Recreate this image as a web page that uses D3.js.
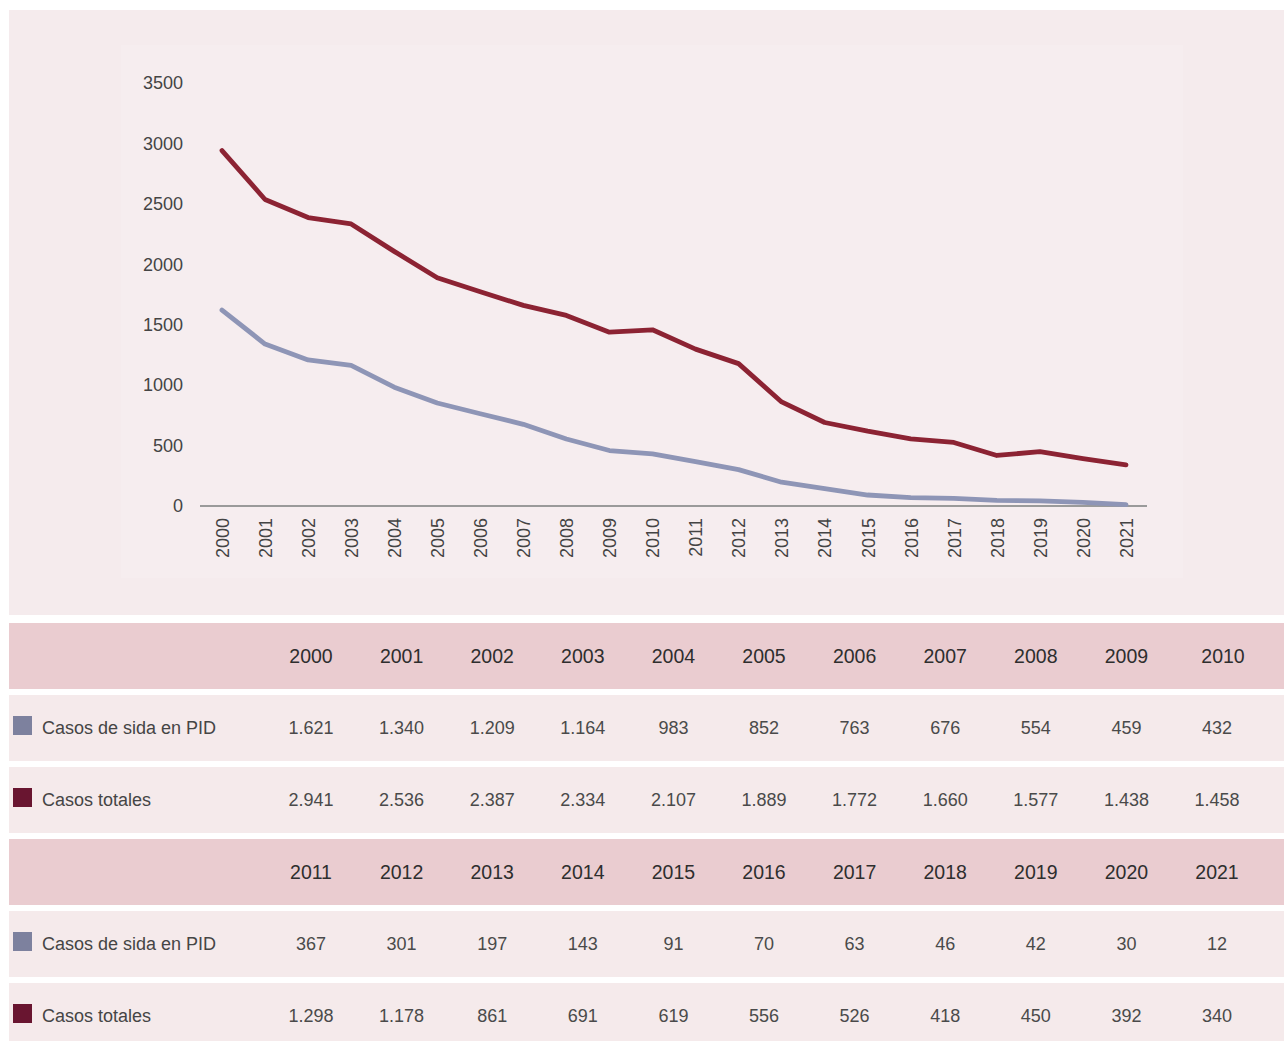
<!DOCTYPE html>
<html>
<head>
<meta charset="utf-8">
<script src="https://cdn.jsdelivr.net/npm/d3@7"></script>
<style>
  html, body { margin: 0; padding: 0; background: #ffffff; }
  svg { display: block; font-family: "Liberation Sans", Arial, Helvetica, sans-serif; }
</style>
</head>
<body>
<svg id="chart" width="1284" height="1041"></svg>
<script>
const years = [2000,2001,2002,2003,2004,2005,2006,2007,2008,2009,2010,2011,2012,2013,2014,2015,2016,2017,2018,2019,2020,2021];
const pid = [1621,1340,1209,1164,983,852,763,676,554,459,432,367,301,197,143,91,70,63,46,42,30,12];
const totales = [2941,2536,2387,2334,2107,1889,1772,1660,1577,1438,1458,1298,1178,861,691,619,556,526,418,450,392,340];
const yTicks = [0,500,1000,1500,2000,2500,3000,3500];
const seriesNames = ["Casos de sida en PID", "Casos totales"];
const lineColors = ["#8e95b6", "#8c2333"];
const legendColors = ["#7d819e", "#691530"];

const fmt = v => d3.format(",")(v).replace(/,/g, ".");

const svg = d3.select("#chart");

// chart panel backgrounds
svg.append("rect").attr("x", 9).attr("y", 10).attr("width", 1275).attr("height", 605).attr("fill", "#f5ebed");
svg.append("rect").attr("x", 121).attr("y", 45).attr("width", 1062).attr("height", 533).attr("fill", "#f6edef");

const x = d3.scalePoint().domain(years).range([222, 1126]);
const y = d3.scaleLinear().domain([0, 3500]).range([506, 83]);

// y axis labels
const yAxis = d3.axisLeft(y).tickValues(yTicks).tickSize(0).tickPadding(0).tickFormat(d3.format("d"));
const gy = svg.append("g").attr("transform", "translate(183,0)").call(yAxis);
gy.select(".domain").remove();
gy.selectAll("text").attr("font-size", 18).attr("fill", "#444").attr("font-family", "Liberation Sans, Arial, sans-serif");

// baseline
svg.append("line").attr("x1", 200).attr("x2", 1147).attr("y1", y(0)).attr("y2", y(0))
  .attr("stroke", "#9a9a9a").attr("stroke-width", 2.2);

// x axis labels
const xAxis = d3.axisBottom(x).tickSize(0).tickPadding(0).tickFormat(d3.format("d"));
const gx = svg.append("g").attr("transform", `translate(0,${y(0)})`).call(xAxis);
gx.select(".domain").remove();
gx.selectAll("text")
  .attr("font-size", 18).attr("fill", "#444").attr("font-family", "Liberation Sans, Arial, sans-serif")
  .attr("text-anchor", "end")
  .attr("transform", "translate(0,12) rotate(-90)")
  .attr("x", 0).attr("y", 0).attr("dy", "0.35em");

// lines
const line = d3.line().x((d, i) => x(years[i])).y(d => y(d));
[pid, totales].forEach((s, k) => {
  svg.append("path").datum(s).attr("d", line)
    .attr("fill", "none").attr("stroke", lineColors[k]).attr("stroke-width", 4.8)
    .attr("stroke-linejoin", "round").attr("stroke-linecap", "round");
});

// table
const blocks = [years.slice(0, 11), years.slice(11)];
const blockIdx = [[0, 11], [11, 22]];
const col = d3.scalePoint().domain(d3.range(11)).range([311, 1217]);
const rowTop = [623, 839];
blocks.forEach((yrs, b) => {
  const top = rowTop[b];
  // header row
  svg.append("rect").attr("x", 9).attr("y", top).attr("width", 1275).attr("height", 66).attr("fill", "#eaccd0");
  svg.append("g").selectAll("text").data(yrs).join("text")
    .attr("x", (d, i) => col(i) + (b === 0 && i === 10 ? 6 : 0))
    .attr("y", top + 33).attr("dy", "0.35em")
    .attr("text-anchor", "middle").attr("font-size", 19.5).attr("fill", "#2e2e2e")
    .text(d => d);
  [pid, totales].forEach((s, k) => {
    const rt = top + 72 + k * 72;
    svg.append("rect").attr("x", 9).attr("y", rt).attr("width", 1275).attr("height", 66).attr("fill", "#f5eaeb");
    svg.append("rect").attr("x", 13).attr("y", rt + 21).attr("width", 19).attr("height", 19).attr("fill", legendColors[k]);
    svg.append("text").attr("x", 42).attr("y", rt + 33).attr("dy", "0.35em")
      .attr("font-size", 18).attr("fill", "#454545").text(seriesNames[k]);
    const vals = s.slice(blockIdx[b][0], blockIdx[b][1]);
    svg.append("g").selectAll("text").data(vals).join("text")
      .attr("x", (d, i) => col(i))
      .attr("y", rt + 33).attr("dy", "0.35em")
      .attr("text-anchor", "middle").attr("font-size", 18).attr("fill", "#4a4a4a")
      .text(d => fmt(d));
  });
});
</script>
</body>
</html>
